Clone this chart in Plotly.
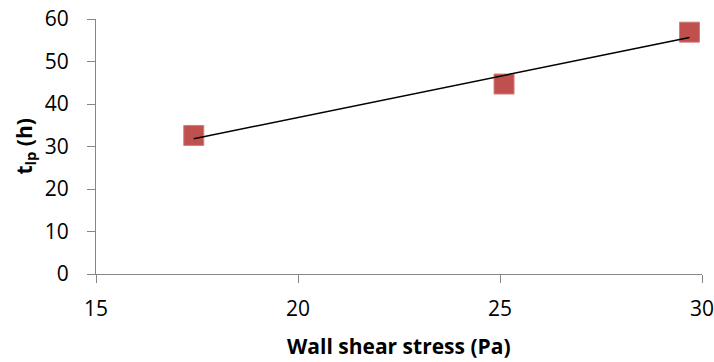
import numpy as np
import plotly.graph_objects as go

# Data
wall_shear_stress = [17.42, 25.1, 29.69]
t_lp = [32.6, 44.7, 56.9]
x_ticks = [15, 20, 25, 30]
y_ticks = [0, 10, 20, 30, 40, 50, 60]

# Linear trendline (least squares) from the data
slope, intercept = np.polyfit(wall_shear_stress, t_lp, 1)
x_fit = [min(wall_shear_stress), max(wall_shear_stress)]
y_fit = [slope * v + intercept for v in x_fit]

FONT = "Open Sans"
AX = "#868686"
L, R, T, B = 96, 12, 19, 88
W, H = 714, 362
pw, ph = W - L - R, H - T - B

fig = go.Figure()
fig.add_trace(go.Scatter(
    x=wall_shear_stress, y=t_lp, mode="markers",
    marker=dict(symbol="square", size=20, color="#C0504D",
                line=dict(color="#D27F7D", width=1)),
    showlegend=False, cliponaxis=False,
))
fig.add_trace(go.Scatter(
    x=x_fit, y=y_fit, mode="lines",
    line=dict(color="black", width=1.5),
    showlegend=False, cliponaxis=False,
))

fig.update_layout(
    width=W, height=H,
    margin=dict(l=L, r=R, t=T, b=B),
    paper_bgcolor="white", plot_bgcolor="white",
    font=dict(family=FONT, size=21, color="black"),
    xaxis=dict(
        range=[15, 30], tickvals=x_ticks, showgrid=False, zeroline=False,
        showline=True, linecolor=AX, linewidth=1,
        ticks="outside", ticklen=8, tickcolor=AX,
        tickfont=dict(family=FONT, size=21), automargin=False,
        ticklabelstandoff=8, ticklabeloverflow="allow",
    ),
    yaxis=dict(
        range=[0, 60], tickvals=y_ticks, showgrid=False, zeroline=False,
        showline=True, linecolor=AX, linewidth=1,
        ticks="outside", ticklen=8, tickcolor=AX,
        tickfont=dict(family=FONT, size=21), automargin=False,
        ticklabelstandoff=14, ticklabeloverflow="allow",
    ),
    annotations=[
        dict(text="<b>Wall shear stress (Pa)</b>", xref="paper", yref="paper",
             x=0.5, y=-(346 - (H - B)) / ph, xanchor="center", yanchor="middle",
             showarrow=False, font=dict(family=FONT, size=21)),
        dict(text="<b>t<sub>lp</sub> (h)</b>", xref="paper", yref="paper",
             x=(24 - L) / pw, y=0.5, xanchor="center", yanchor="middle",
             textangle=-90, showarrow=False, font=dict(family=FONT, size=21)),
    ],
)

fig.write_html(
    "out.html",
    config={"displayModeBar": False},
    post_script="document.body.style.margin='0';document.body.style.overflow='hidden';",
)
